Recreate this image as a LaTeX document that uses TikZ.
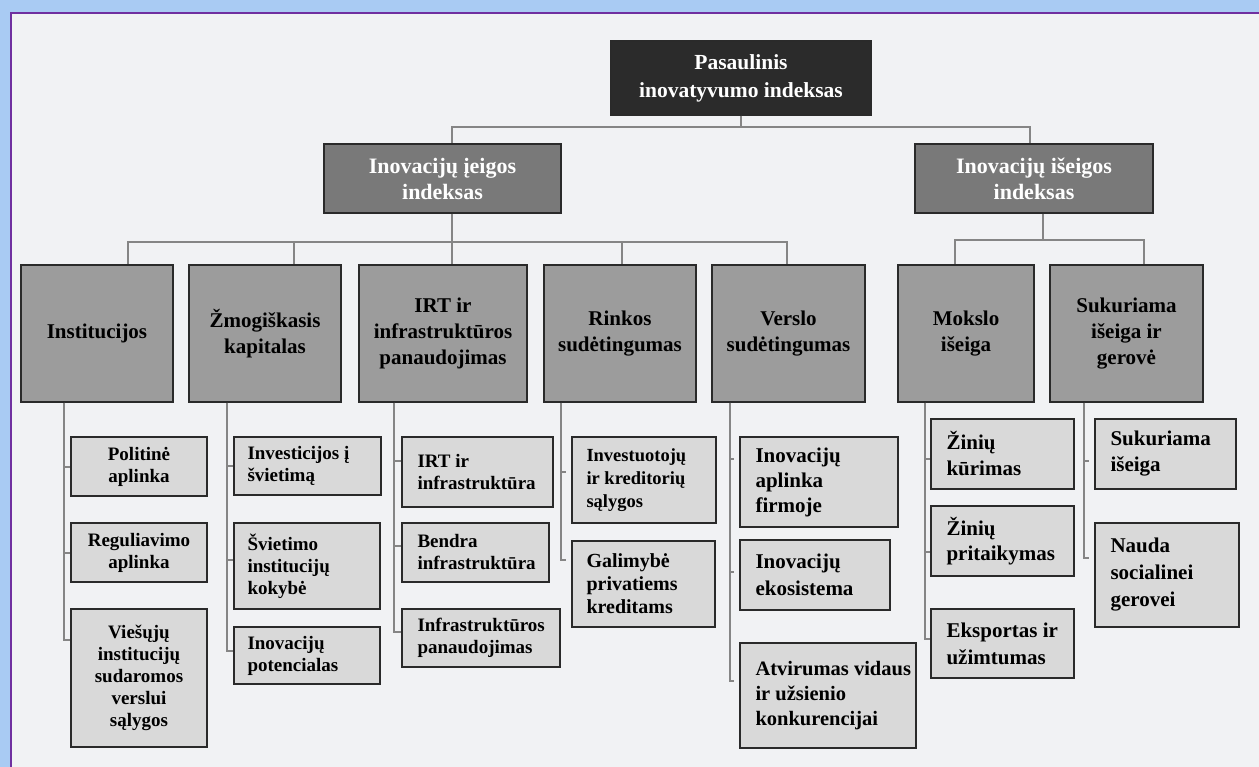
\documentclass[tikz,border=0pt]{standalone}
\usepackage{fontspec}
\setmainfont{Liberation Serif}
\usetikzlibrary{calc}
\definecolor{bgblue}{HTML}{A9CBF3}
\definecolor{panel}{HTML}{F1F2F4}
\definecolor{framec}{HTML}{7030A0}
\definecolor{topfill}{HTML}{2B2B2B}
\definecolor{midfill}{HTML}{797979}
\definecolor{catfill}{HTML}{9C9C9C}
\definecolor{leaffill}{HTML}{D9D9D9}
\definecolor{edgec}{HTML}{2A2A2A}
\definecolor{connc}{HTML}{858585}
\newcommand{\mkbox}[7]{\node[#1, minimum width={#5-#3}, minimum height={#6-#4}] (#2) at ({(#3+#5)/2},{(#4+#6)/2}) {#7};}
\newcommand{\mkleaf}[8]{\mkbox{leafbox}{#1}{#2}{#3}{#4}{#5}{}\node[leaftext, font={#7}, anchor=west] (#1t) at ([xshift=#6pt]#1.west) {#8};}
\begin{document}
\begin{tikzpicture}[x=1pt,y=-1pt,
  boxbase/.style={draw=edgec, line width=1.4pt, inner sep=0pt, rectangle},
  topbox/.style={boxbase, fill=topfill, text=white, align=center, font=\fontsize{21.5}{28}\selectfont\bfseries},
  midbox/.style={boxbase, fill=midfill, text=white, align=center, font=\fontsize{22}{26}\selectfont\bfseries},
  catbox/.style={boxbase, fill=catfill, text=black, align=center, font=\fontsize{21}{26}\selectfont\bfseries},
  leafbox/.style={boxbase, fill=leaffill},
  cleaf/.style={leafbox, align=center, font=\fontsize{19}{22}\selectfont\bfseries},
  leaftext/.style={inner sep=0pt, align=left},
  conn/.style={draw=connc, line width=2pt},
  gapconn/.style={conn, shorten >=5pt}]
\useasboundingbox (0,0) rectangle (1259,767);
\fill[bgblue] (0,0) rectangle (1259,767);
\fill[panel] (11,13) rectangle (1259,767);
\draw[framec, line width=2.5pt] (11,767) -- (11,13) -- (1259,13);

% top levels
\mkbox{topbox}{top}{611}{41}{871}{115}{Pasaulinis\\inovatyvumo indeksas}
\mkbox{midbox}{l2a}{324}{144}{561}{213}{Inovacijų įeigos\\indeksas}
\mkbox{midbox}{l2b}{915}{144}{1153}{213}{Inovacijų išeigos\\indeksas}

% categories
\mkbox{catbox}{inst}{21}{265}{173}{402}{Institucijos}
\mkbox{catbox}{zmog}{189}{265}{341}{402}{Žmogiškasis\\kapitalas}
\mkbox{catbox}{irt}{359}{265}{527}{402}{IRT ir\\infrastruktūros\\panaudojimas}
\mkbox{catbox}{rink}{544}{265}{696}{402}{Rinkos\\sudėtingumas}
\mkbox{catbox}{vers}{712}{265}{865}{402}{Verslo\\sudėtingumas}
\mkbox{catbox}{moks}{898}{265}{1034}{402}{Mokslo\\išeiga}
\mkbox{catbox}{suk}{1050}{265}{1203}{402}{Sukuriama\\išeiga ir\\gerovė}

% leaves: Institucijos
\mkbox{cleaf}{pol}{71}{437}{207}{496}{Politinė\\aplinka}
\mkbox{cleaf}{reg}{71}{523}{207}{582}{Reguliavimo\\aplinka}
\mkbox{cleaf}{vie}{71}{609}{207}{747}{Viešųjų\\institucijų\\sudaromos\\verslui\\sąlygos}
% Zmogiskasis
\mkleaf{inv}{234}{437}{381}{495}{14}{\fontsize{19}{22}\selectfont\bfseries}{Investicijos į\\švietimą}
\mkleaf{svi}{234}{523}{380}{609}{14}{\fontsize{19}{22}\selectfont\bfseries}{Švietimo\\institucijų\\kokybė}
\mkleaf{pot}{234}{627}{380}{684}{14}{\fontsize{19}{22}\selectfont\bfseries}{Inovacijų\\potencialas}
% IRT
\mkleaf{irta}{402}{437}{553}{507}{16}{\fontsize{19}{22}\selectfont\bfseries}{IRT ir\\infrastruktūra}
\mkleaf{ben}{402}{523}{549}{582}{16}{\fontsize{19}{22}\selectfont\bfseries}{Bendra\\infrastruktūra}
\mkleaf{ipa}{402}{609}{560}{667}{16}{\fontsize{19}{22}\selectfont\bfseries}{Infrastruktūros\\panaudojimas}
% Rinkos
\mkleaf{ikr}{572}{437}{716}{523}{15}{\fontsize{18.5}{23}\selectfont\bfseries}{Investuotojų\\ir kreditorių\\sąlygos}
\mkleaf{gal}{572}{541}{715}{627}{15}{\fontsize{20}{23}\selectfont\bfseries}{Galimybė\\privatiems\\kreditams}
% Verslo
\mkleaf{ial}{740}{437}{898}{527}{16}{\fontsize{21}{25}\selectfont\bfseries}{Inovacijų\\aplinka\\firmoje}
\mkleaf{eko}{740}{540}{890}{610}{16}{\fontsize{21}{27}\selectfont\bfseries}{Inovacijų\\ekosistema}
\mkleaf{atv}{740}{643}{916}{748}{16}{\fontsize{20.5}{25}\selectfont\bfseries}{Atvirumas vidaus\\ir užsienio\\konkurencijai}
% Mokslo
\mkleaf{zk}{931}{419}{1074}{489}{16}{\fontsize{21}{26}\selectfont\bfseries}{Žinių\\kūrimas}
\mkleaf{zp}{931}{506}{1074}{576}{16}{\fontsize{21}{25}\selectfont\bfseries}{Žinių\\pritaikymas}
\mkleaf{eks}{931}{609}{1074}{678}{16}{\fontsize{21}{27}\selectfont\bfseries}{Eksportas ir\\užimtumas}
% Sukuriama
\mkleaf{si}{1095}{419}{1236}{489}{16}{\fontsize{21}{26}\selectfont\bfseries}{Sukuriama\\išeiga}
\mkleaf{nau}{1095}{523}{1239}{627}{16}{\fontsize{21}{27}\selectfont\bfseries}{Nauda\\socialinei\\gerovei}

% connectors top
\draw[conn] (top.south) -- ++(0,11) -| ([xshift=9.5pt]l2a.north);
\draw[conn] (top.south) -- ++(0,11) -| ([xshift=-4pt]l2b.north);
% left bar
\coordinate (jl) at (452,242);
\draw[conn] ([xshift=9.5pt]l2a.south) -- (jl);
\draw[conn] (jl) -| ([xshift=31pt]inst.north);
\draw[conn] (jl) -| ([xshift=29pt]zmog.north);
\draw[conn] (jl) -| ([xshift=9pt]irt.north);
\draw[conn] (jl) -| ([xshift=2pt]rink.north);
\draw[conn] (jl) -| ([xshift=-1.5pt]vers.north);
% right bar
\coordinate (jr) at (1043,240);
\draw[conn] ([xshift=9pt]l2b.south) -- (jr);
\draw[conn] (jr) -| ([xshift=-11pt]moks.north);
\draw[conn] (jr) -| ([xshift=17.5pt]suk.north);

% spines
\draw[conn] ([xshift=-33pt]inst.south) |- (pol.west);
\draw[conn] ([xshift=-33pt]inst.south) |- (reg.west);
\draw[conn] ([xshift=-33pt]inst.south) |- ([yshift=38pt]vie.west);

\draw[conn] ([xshift=-38pt]zmog.south) |- (inv.west);
\draw[conn] ([xshift=-38pt]zmog.south) |- ([yshift=6pt]svi.west);
\draw[conn] ([xshift=-38pt]zmog.south) |- ([yshift=5pt]pot.west);

\draw[conn] ([xshift=-49pt]irt.south) |- ([yshift=11pt]irta.west);
\draw[conn] ([xshift=-49pt]irt.south) |- ([yshift=7pt]ben.west);
\draw[conn] ([xshift=-49pt]irt.south) |- ([yshift=6pt]ipa.west);

\draw[gapconn] ([xshift=-59pt]rink.south) |- ([yshift=8pt]ikr.west);
\draw[gapconn] ([xshift=-59pt]rink.south) |- ([yshift=24pt]gal.west);

\draw[gapconn] ([xshift=-58.5pt]vers.south) |- ([yshift=23pt]ial.west);
\draw[gapconn] ([xshift=-58.5pt]vers.south) |- ([yshift=3pt]eko.west);
\draw[gapconn] ([xshift=-58.5pt]vers.south) |- ([yshift=15pt]atv.west);

\draw[conn] ([xshift=-41pt]moks.south) |- ([yshift=-5pt]zk.west);
\draw[conn] ([xshift=-41pt]moks.south) |- ([yshift=-11pt]zp.west);
\draw[conn] ([xshift=-41pt]moks.south) |- ([yshift=5pt]eks.west);

\draw[gapconn] ([xshift=-42.5pt]suk.south) |- ([yshift=-7pt]si.west);
\draw[gapconn] ([xshift=-42.5pt]suk.south) |- ([yshift=17pt]nau.west);
\end{tikzpicture}
\end{document}
